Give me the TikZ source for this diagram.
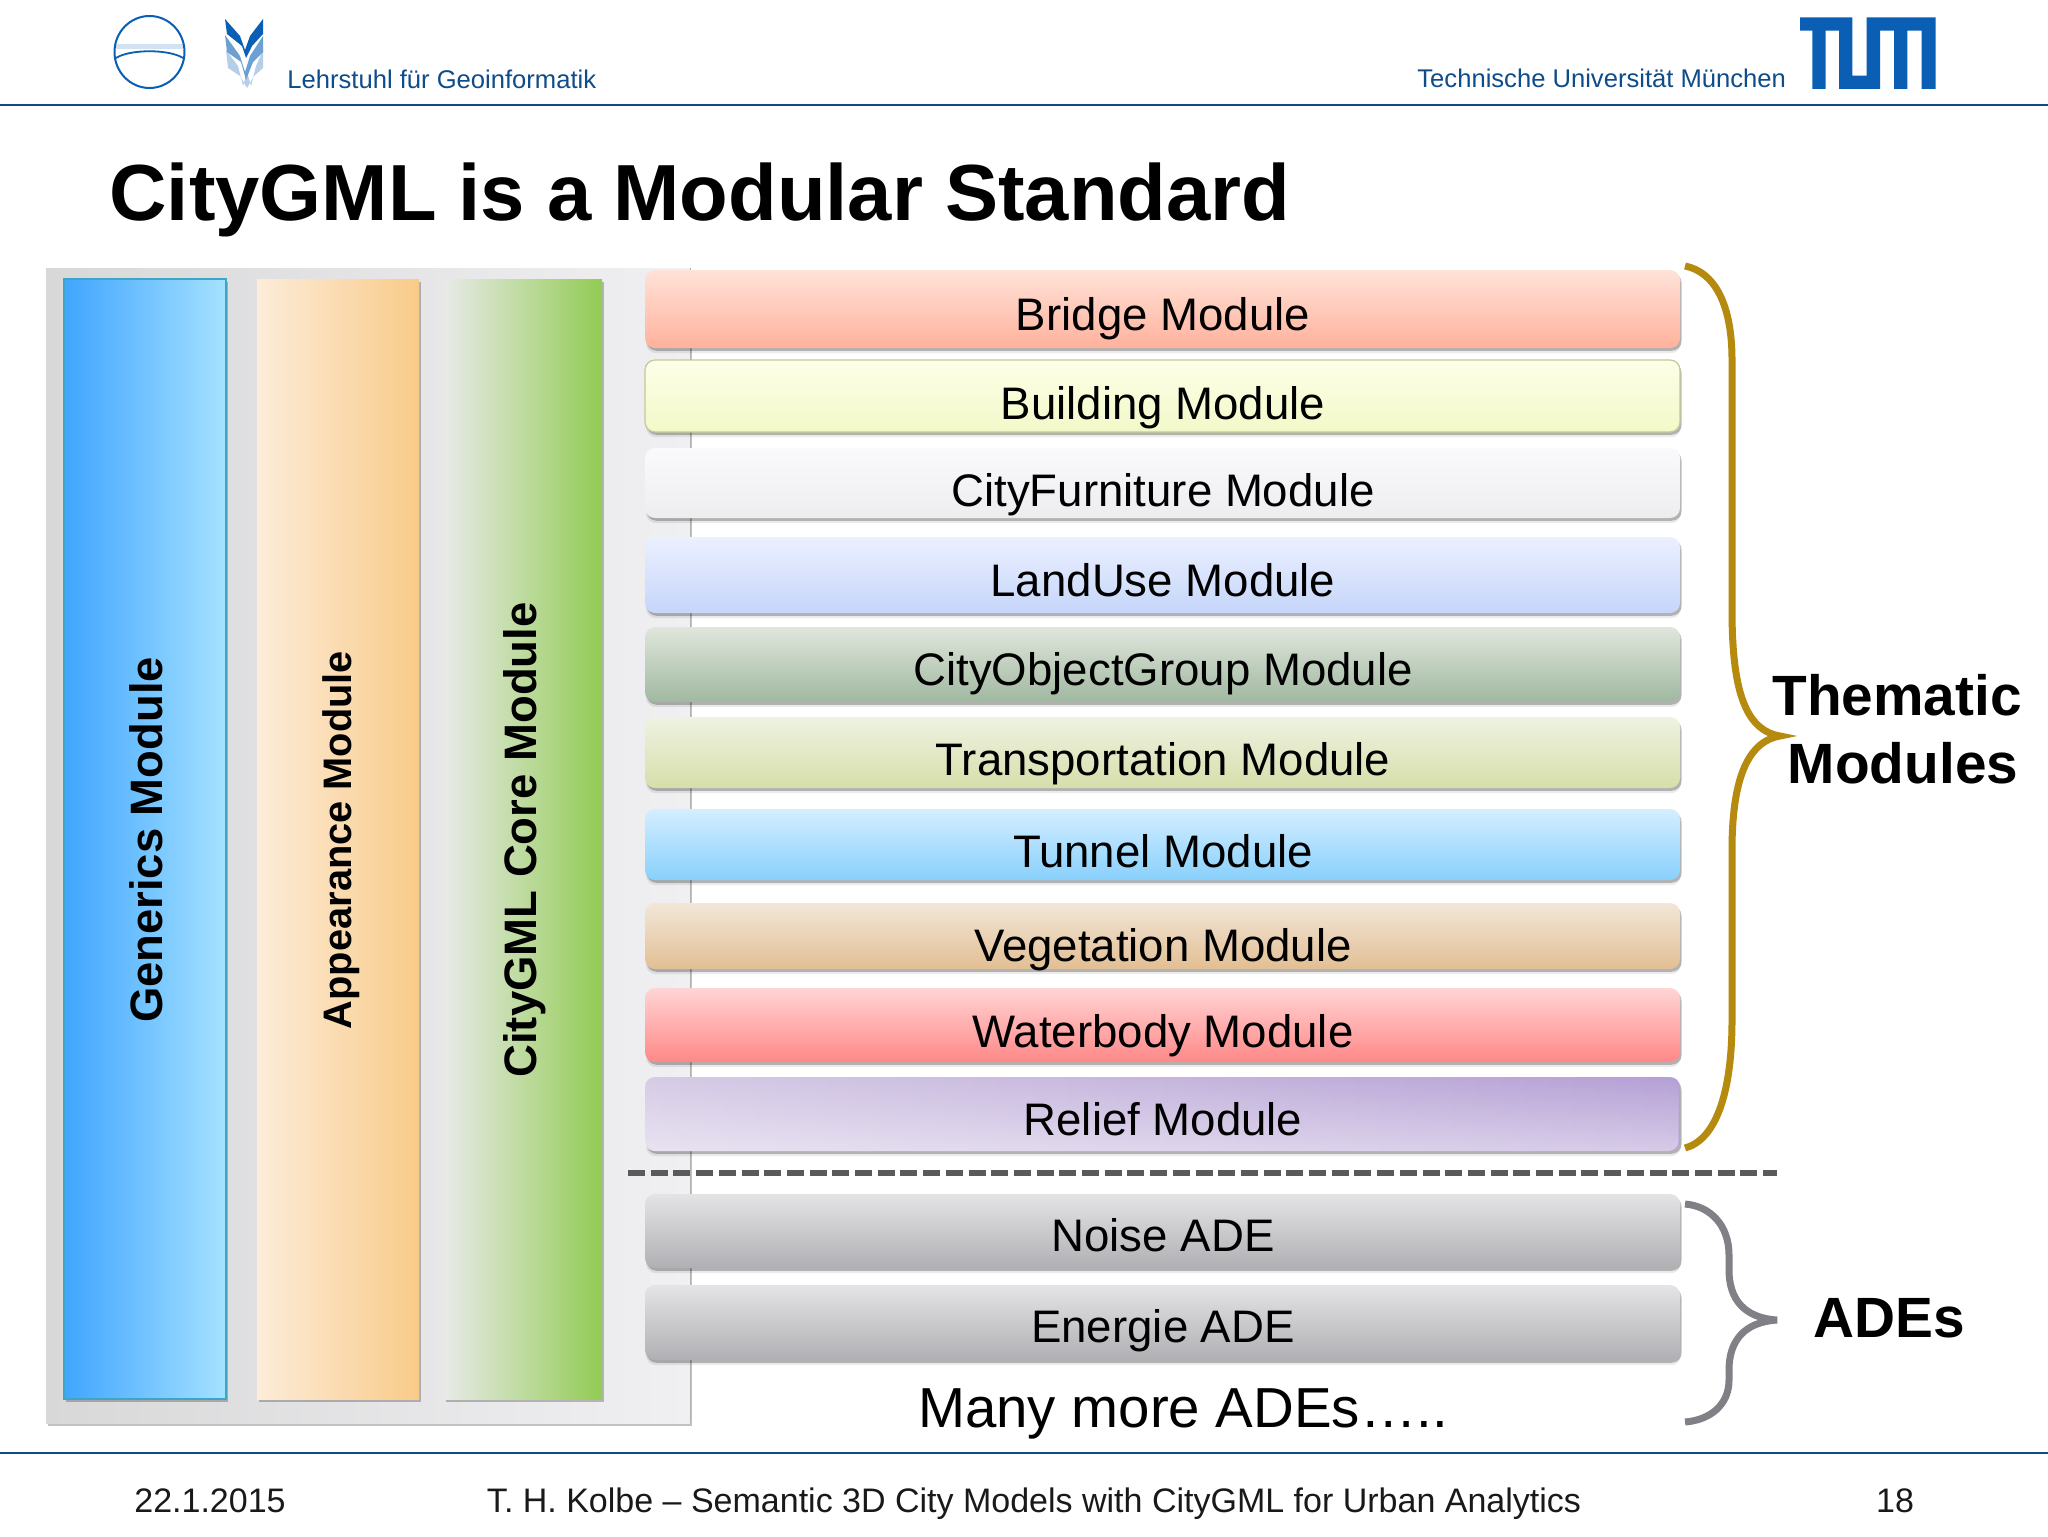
\documentclass[tikz,border=0pt]{standalone}
\usepackage{fontspec}
\setmainfont{Liberation Sans}
\usetikzlibrary{shadows,fadings}
\definecolor{tumblue}{HTML}{0A5FB4}
\definecolor{headtxt}{HTML}{0F4C8A}
\definecolor{rulec}{HTML}{0F4C81}
\definecolor{genL}{HTML}{40A5FF}
\definecolor{genR}{HTML}{A5E2FF}
\definecolor{genE}{HTML}{3CA5C8}
\definecolor{appL}{HTML}{FCECDA}
\definecolor{appR}{HTML}{F9CB88}
\definecolor{coreL}{HTML}{E9EAE8}
\definecolor{coreM}{HTML}{ABC88C}
\definecolor{coreR}{HTML}{92CB54}
\definecolor{dashc}{HTML}{5A5A5C}
\definecolor{goldc}{HTML}{B58A0E}
\definecolor{greyc}{HTML}{808086}
\definecolor{panelL}{HTML}{D8D8D9}
\definecolor{panelR}{HTML}{F0F0F2}
\definecolor{reliefL}{HTML}{D6CBE6}
\definecolor{reliefR}{HTML}{B5A0D5}
\definecolor{bldgE}{HTML}{C4C896}
\tikzset{
  px/.style={x=0.5pt,y=-0.5pt},
  softshadow/.style={general shadow={shadow xshift=0.8pt,shadow yshift=-1.4pt,fill=black,fill opacity=0.24}},
  softshadowb/.style={general shadow={shadow xshift=0.5pt,shadow yshift=-2.6pt,fill=black,fill opacity=0.08}},
  collab/.style={inner sep=0pt,rotate=90},
  barlab/.style={font=\fontsize{22.8}{26}\selectfont,inner sep=0pt,anchor=base},
  bigbold/.style={font=\bfseries\fontsize{28.4}{32}\selectfont,inner sep=0pt},
  foot/.style={font=\fontsize{17}{20}\selectfont,inner sep=0pt,anchor=base,text=black!90},
  head/.style={font=\fontsize{12.8}{16}\selectfont,text=headtxt,inner sep=0pt,anchor=base west},
  brace/.style={line width=3.5pt,line cap=butt},
  barshape/.style={rounded corners=5pt},
}
% #1 top, #2 bottom, #3 text baseline, #4 top colour, #5 bottom colour, #6 text
\newcommand{\modbar}[6]{%
  \definecolor{tc}{HTML}{#4}\definecolor{bc}{HTML}{#5}%
  \path[barshape,top color=tc,bottom color=bc,softshadowb,softshadow] (645,#1) rectangle (1680,#2);
  \node[barlab] at (1163,#3) {#6};
}
\begin{document}
\begin{tikzpicture}[px]
\useasboundingbox (0,0) rectangle (2048,1536);
\fill[white] (0,0) rectangle (2048,1536);
% header
\draw[rulec,line width=1pt] (0,105) -- (2048,105);
\draw[rulec,line width=1pt] (0,1453) -- (2048,1453);
\node[head] (lehr) at (287,89) {Lehrstuhl für Geoinformatik};
\node[head] (tu) at (1417,88) {Technische Universität München};
% left logo
\fill[tumblue!18] (116,44) rectangle (183,49);
\draw[tumblue,line width=1pt] (149.5,52) circle[x radius=35,y radius=36];
\draw[tumblue,line width=0.9pt] (116,58) .. controls (130,49) and (169,49) .. (183,58);
% second logo
\fill[tumblue!30] (226,50) -- (238,66) -- (243,86) -- (247,72) -- (251,86) -- (256,66) -- (263,50) -- (263,68) -- (254,76) -- (247,88) -- (240,76) -- (228,68) -- cycle;
\fill[tumblue!60] (225,35) -- (240,56) -- (245,72) -- (250,56) -- (263,36) -- (263,52) -- (253,62) -- (246,80) -- (241,62) -- (227,52) -- cycle;
\fill[tumblue] (225,19) -- (240,36) -- (245,50) -- (250,36) -- (263,19) -- (263,34) -- (252,46) -- (246,58) -- (242,46) -- (227,34) -- cycle;
% TUM logo
\fill[tumblue] (1800,17.3) -- (1852.3,17.3) -- (1852.3,75.7) -- (1866.7,75.7) -- (1866.7,17.3) -- (1935.7,17.3) -- (1935.7,89) -- (1921.7,89) -- (1921.7,30.7) -- (1907.3,30.7) -- (1907.3,89) -- (1894,89) -- (1894,30.7) -- (1880,30.7) -- (1880,89) -- (1839,89) -- (1839,30.7) -- (1825.7,30.7) -- (1825.7,89) -- (1812.3,89) -- (1812.3,30.7) -- (1800,30.7) -- cycle;
% title
\node[font=\bfseries\fontsize{39.8}{48}\selectfont,inner sep=0pt,anchor=base west] (title) at (109,220) {CityGML is a Modular Standard};
% panel
\path[left color=panelL,right color=panelR,softshadow] (46,268) rectangle (690,1423);
\draw[black!30,line width=0.4pt] (690,268) -- (690,1423);
% columns
\path[softshadow,left color=genL,right color=genR] (64,279) rectangle (226,1399);
\draw[genE,line width=0.6pt] (64,279) rectangle (226,1399);
\path[softshadow,left color=appL,right color=appR] (257,279) rectangle (419,1399);
\path[left color=coreL,middle color=coreM,right color=coreR,softshadow] (444,279) rectangle (602,1399);
\node[collab,font=\bfseries\fontsize{22.7}{26}\selectfont] (gen) at (146,840) {Generics Module};
\node[collab,font=\bfseries\fontsize{19.9}{24}\selectfont] (app) at (341.5,840) {Appearance Module};
\node[collab,font=\bfseries\fontsize{22.75}{26}\selectfont] (core) at (524.5,840) {CityGML Core Module};
% bars
\modbar{270}{348}{330}{FFE2D8}{FFB29C}{Bridge Module}
\modbar{360}{432}{419}{FDFFE8}{F2F9C8}{Building Module}
\draw[barshape,draw=bldgE,line width=0.6pt] (645,360) rectangle (1680,432);
\modbar{448}{518}{506}{FAFAFC}{EDEDEF}{CityFurniture Module}
\modbar{537}{613}{596}{ECF0FF}{C5D6FA}{LandUse Module}
\modbar{627}{702}{685}{E0E6DC}{A0B8A0}{CityObjectGroup Module}
\modbar{717}{788}{775}{EEF2E2}{D6DFAA}{Transportation Module}
\modbar{809}{880}{867.5}{D4EEFF}{88D0FC}{Tunnel Module}
\modbar{903}{969}{961}{F2E6D8}{E2BF94}{Vegetation Module}
\modbar{988}{1062}{1047.5}{FFD4D4}{FF8888}{Waterbody Module}
\path[barshape,left color=reliefL,right color=reliefR,softshadowb,softshadow] (645,1077) rectangle (1680,1151);
\path[barshape,fill=white,fill opacity=0.45,path fading=north] (645,1077) rectangle (1680,1151);
\node[barlab] (relief) at (1163,1135) {Relief Module};
\modbar{1194}{1268}{1251}{E4E4E6}{B0B0B4}{Noise ADE}
\modbar{1285}{1360}{1342}{E4E4E6}{B0B0B4}{Energie ADE}
% dashed
\draw[line width=3pt,draw=dashc,dash pattern=on 8.5pt off 2.85pt] (628,1173) coordinate (d1) -- (1777,1173) coordinate (d2);
% braces
\draw[brace,draw=goldc] (1685,266) .. controls (1715,272) and (1732,305) .. (1732,360) -- (1732,610) .. controls (1732,690) and (1745,730) .. (1780,736) .. controls (1745,742) and (1732,785) .. (1732,850) -- (1732,1020) .. controls (1732,1095) and (1715,1140) .. (1685,1148);
\draw[brace,draw=greyc] (1685,1204) .. controls (1710,1206) and (1729,1225) .. (1729,1255) -- (1729,1270) .. controls (1729,1300) and (1745,1318) .. (1777,1320) .. controls (1745,1322) and (1729,1340) .. (1729,1370) -- (1729,1380) .. controls (1729,1405) and (1710,1420) .. (1685,1422);
% side labels
\node[bigbold,anchor=base] (them) at (1897,715.5) {Thematic};
\node[bigbold,anchor=base] (mods) at (1903,783.5) {Modules};
\node[bigbold,anchor=base] (ades) at (1889,1337) {ADEs};
\node[font=\fontsize{28.2}{34}\selectfont,inner sep=0pt,anchor=base] (many) at (1183,1427) {Many more ADEs…..};
% footer
\node[foot] (date) at (210,1512) {22.1.2015};
\node[foot] (auth) at (1034,1512) {T. H. Kolbe – Semantic 3D City Models with CityGML for Urban Analytics};
\node[foot] (page) at (1895,1512) {18};
\end{tikzpicture}
\end{document}
